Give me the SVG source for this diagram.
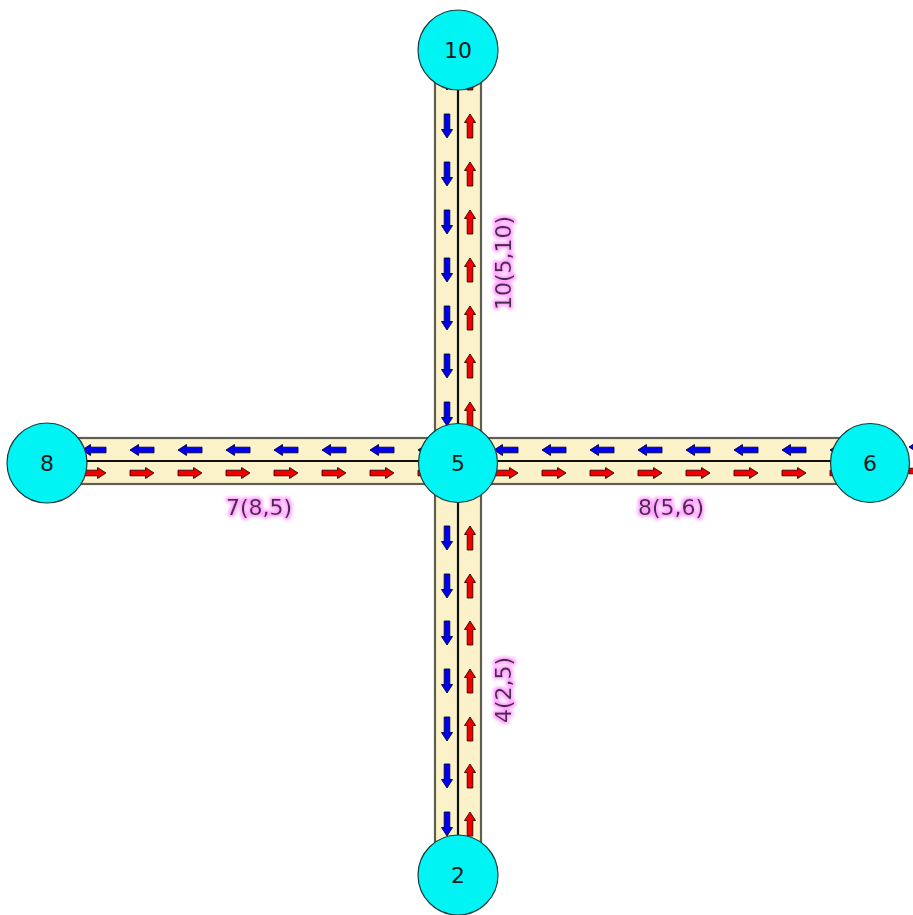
<svg xmlns="http://www.w3.org/2000/svg" xmlns:xlink="http://www.w3.org/1999/xlink" width="913" height="915" viewBox="0 0 913 915">
  <style>
    .road { fill: #fbf2c9; stroke: #5f5e52; stroke-width: 2.2; }
    .divider { stroke: #111; stroke-width: 2.2; }
    .fwd { fill: #f00000; stroke: #3a0000; stroke-width: 0.9; }
    .bwd { fill: #0000f0; stroke: #00003a; stroke-width: 0.9; }
    .node circle { fill: #00f4f4; stroke: #1a3a3a; stroke-width: 1.2; }
    .node text { font-family: "DejaVu Sans", "Liberation Sans", sans-serif; font-size: 22px; fill: #1a1a1a; text-anchor: middle; dominant-baseline: central; }
    .elabel { font-family: "DejaVu Sans", "Liberation Sans", sans-serif; font-size: 22px; fill: #4a2a4a; text-anchor: middle; filter: url(#glow); }
  </style>
  <defs>
    <!-- lane direction arrow, pointing along +x, centred on the origin -->
    <path id="arrow" d="M-12,-2.8 H3.5 V-5.5 L12,0 L3.5,5.5 V2.8 H-12 Z"/>
    <filter id="glow" x="-30%" y="-40%" width="160%" height="180%">
      <feMorphology in="SourceAlpha" operator="dilate" radius="1.6" result="thick"/>
      <feGaussianBlur in="thick" stdDeviation="1.6" result="soft"/>
      <feFlood flood-color="#ff7cff" flood-opacity="0.7"/>
      <feComposite in2="soft" operator="in" result="halo"/>
      <feMerge>
        <feMergeNode in="halo"/>
        <feMergeNode in="SourceGraphic"/>
      </feMerge>
    </filter>
  </defs>
  <rect width="913" height="915" fill="#ffffff"/>

  <g id="edges">
    <!-- edge 10: 5 -> 10 (north) -->
    <g id="edge-10">
      <rect class="road" x="435" y="50" width="46" height="413"/>
      <line class="divider" x1="458" y1="50" x2="458" y2="463"/>
      <g class="bwd">
        <use xlink:href="#arrow" transform="translate(447,78) rotate(90)"/>
        <use xlink:href="#arrow" transform="translate(447,126) rotate(90)"/>
        <use xlink:href="#arrow" transform="translate(447,174) rotate(90)"/>
        <use xlink:href="#arrow" transform="translate(447,222) rotate(90)"/>
        <use xlink:href="#arrow" transform="translate(447,270) rotate(90)"/>
        <use xlink:href="#arrow" transform="translate(447,318) rotate(90)"/>
        <use xlink:href="#arrow" transform="translate(447,366) rotate(90)"/>
        <use xlink:href="#arrow" transform="translate(447,414) rotate(90)"/>
      </g>
      <g class="fwd">
        <use xlink:href="#arrow" transform="translate(470,78) rotate(-90)"/>
        <use xlink:href="#arrow" transform="translate(470,126) rotate(-90)"/>
        <use xlink:href="#arrow" transform="translate(470,174) rotate(-90)"/>
        <use xlink:href="#arrow" transform="translate(470,222) rotate(-90)"/>
        <use xlink:href="#arrow" transform="translate(470,270) rotate(-90)"/>
        <use xlink:href="#arrow" transform="translate(470,318) rotate(-90)"/>
        <use xlink:href="#arrow" transform="translate(470,366) rotate(-90)"/>
        <use xlink:href="#arrow" transform="translate(470,414) rotate(-90)"/>
      </g>
      <text class="elabel" transform="translate(511,263) rotate(-90)">10(5,10)</text>
    </g>

    <!-- edge 4: 2 -> 5 (south) -->
    <g id="edge-4">
      <rect class="road" x="435" y="463" width="46" height="412"/>
      <line class="divider" x1="458" y1="463" x2="458" y2="875"/>
      <g class="bwd">
        <use xlink:href="#arrow" transform="translate(447,538) rotate(90)"/>
        <use xlink:href="#arrow" transform="translate(447,586) rotate(90)"/>
        <use xlink:href="#arrow" transform="translate(447,633) rotate(90)"/>
        <use xlink:href="#arrow" transform="translate(447,681) rotate(90)"/>
        <use xlink:href="#arrow" transform="translate(447,729) rotate(90)"/>
        <use xlink:href="#arrow" transform="translate(447,776) rotate(90)"/>
        <use xlink:href="#arrow" transform="translate(447,824) rotate(90)"/>
      </g>
      <g class="fwd">
        <use xlink:href="#arrow" transform="translate(470,538) rotate(-90)"/>
        <use xlink:href="#arrow" transform="translate(470,586) rotate(-90)"/>
        <use xlink:href="#arrow" transform="translate(470,633) rotate(-90)"/>
        <use xlink:href="#arrow" transform="translate(470,681) rotate(-90)"/>
        <use xlink:href="#arrow" transform="translate(470,729) rotate(-90)"/>
        <use xlink:href="#arrow" transform="translate(470,776) rotate(-90)"/>
        <use xlink:href="#arrow" transform="translate(470,824) rotate(-90)"/>
      </g>
      <text class="elabel" transform="translate(511,690) rotate(-90)">4(2,5)</text>
    </g>

    <!-- edge 7: 8 -> 5 (west) -->
    <g id="edge-7">
      <rect class="road" x="47" y="438" width="411" height="46"/>
      <line class="divider" x1="47" y1="461" x2="458" y2="461"/>
      <g class="bwd">
        <use xlink:href="#arrow" transform="translate(94,450) rotate(180)"/>
        <use xlink:href="#arrow" transform="translate(142,450) rotate(180)"/>
        <use xlink:href="#arrow" transform="translate(190,450) rotate(180)"/>
        <use xlink:href="#arrow" transform="translate(238,450) rotate(180)"/>
        <use xlink:href="#arrow" transform="translate(286,450) rotate(180)"/>
        <use xlink:href="#arrow" transform="translate(334,450) rotate(180)"/>
        <use xlink:href="#arrow" transform="translate(382,450) rotate(180)"/>
        <use xlink:href="#arrow" transform="translate(430,450) rotate(180)"/>
      </g>
      <g class="fwd">
        <use xlink:href="#arrow" transform="translate(94,473)"/>
        <use xlink:href="#arrow" transform="translate(142,473)"/>
        <use xlink:href="#arrow" transform="translate(190,473)"/>
        <use xlink:href="#arrow" transform="translate(238,473)"/>
        <use xlink:href="#arrow" transform="translate(286,473)"/>
        <use xlink:href="#arrow" transform="translate(334,473)"/>
        <use xlink:href="#arrow" transform="translate(382,473)"/>
        <use xlink:href="#arrow" transform="translate(430,473)"/>
      </g>
      <text class="elabel" x="259" y="515">7(8,5)</text>
    </g>

    <!-- edge 8: 5 -> 6 (east) -->
    <g id="edge-8">
      <rect class="road" x="458" y="438" width="412" height="46"/>
      <line class="divider" x1="458" y1="461" x2="870" y2="461"/>
      <g class="bwd">
        <use xlink:href="#arrow" transform="translate(506,450) rotate(180)"/>
        <use xlink:href="#arrow" transform="translate(554,450) rotate(180)"/>
        <use xlink:href="#arrow" transform="translate(602,450) rotate(180)"/>
        <use xlink:href="#arrow" transform="translate(650,450) rotate(180)"/>
        <use xlink:href="#arrow" transform="translate(698,450) rotate(180)"/>
        <use xlink:href="#arrow" transform="translate(746,450) rotate(180)"/>
        <use xlink:href="#arrow" transform="translate(794,450) rotate(180)"/>
        <use xlink:href="#arrow" transform="translate(842,450) rotate(180)"/>
        <use xlink:href="#arrow" transform="translate(921,447) rotate(180)"/>
      </g>
      <g class="fwd">
        <use xlink:href="#arrow" transform="translate(506,473)"/>
        <use xlink:href="#arrow" transform="translate(554,473)"/>
        <use xlink:href="#arrow" transform="translate(602,473)"/>
        <use xlink:href="#arrow" transform="translate(650,473)"/>
        <use xlink:href="#arrow" transform="translate(698,473)"/>
        <use xlink:href="#arrow" transform="translate(746,473)"/>
        <use xlink:href="#arrow" transform="translate(794,473)"/>
        <use xlink:href="#arrow" transform="translate(842,473)"/>
        <use xlink:href="#arrow" transform="translate(921,471)"/>
      </g>
      <text class="elabel" x="671" y="515">8(5,6)</text>
    </g>
  </g>

  <g id="node-10" class="node"><circle cx="458" cy="50" r="40"/><text x="458" y="50">10</text></g>
  <g id="node-5" class="node"><circle cx="458" cy="463" r="39.5"/><text x="458" y="463">5</text></g>
  <g id="node-8" class="node"><circle cx="47" cy="463" r="40"/><text x="47" y="463">8</text></g>
  <g id="node-6" class="node"><circle cx="870" cy="463" r="39.5"/><text x="870" y="463">6</text></g>
  <g id="node-2" class="node"><circle cx="458" cy="875" r="40"/><text x="458" y="875">2</text></g>
</svg>
